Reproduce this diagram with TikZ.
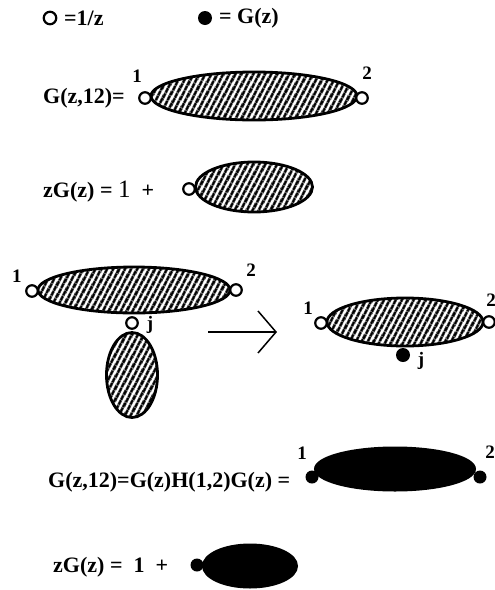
\documentclass[tikz,border=0pt]{standalone}
\usepackage{fontspec}
\setmainfont{Liberation Serif}
\usetikzlibrary{shapes.geometric,patterns.meta,arrows.meta}

\begin{document}
\begin{tikzpicture}[x=1pt,y=-1pt,font=\fontsize{22}{26}\selectfont\bfseries,
  opendot/.style={circle,draw,line width=2.2pt,fill=white,inner sep=0pt,minimum size=11.5pt},
  fulldot/.style={circle,fill,inner sep=0pt,minimum size=13pt},
  hatchell/.style={ellipse,draw,line width=2.8pt,inner sep=0pt,
    pattern={Lines[angle=62,distance=5.4pt,line width=3pt]}},
  blackell/.style={ellipse,draw,fill,line width=2pt,inner sep=0pt},
  eqn/.style={anchor=west,inner sep=0pt},
  tag/.style={inner sep=0pt,font=\fontsize{19}{21}\selectfont\bfseries}]
\useasboundingbox (0,0) rectangle (495,590);
\node[opendot,minimum size=12.5pt] (keyo) at (50,18) {};
\node[eqn] (keyotxt) at (64,18) {=1/z};
\node[fulldot,minimum size=14pt] (keyf) at (205,18) {};
\node[eqn] (keyftxt) at (219,18) {= G(z)};
\node[eqn] (gtxt) at (43,98) {G(z,12)=};
\node[hatchell,minimum width=206pt,minimum height=48pt] (gell) at (254,96) {};
\node[opendot] (g1) at (145,98) {};
\node[opendot] (g2) at (362,98) {};
\node[tag] (g1lab) at (137,76) {1};
\node[tag] (g2lab) at (367,73) {2};
\node[eqn] (ztxt) at (43,192) {zG(z) = {\mdseries\fontsize{25}{26}\selectfont 1} \ +};
\node[hatchell,minimum width=117pt,minimum height=50pt] (zell) at (254,187) {};
\node[opendot] (zdot) at (189,189) {};
\node[hatchell,minimum width=192pt,minimum height=46pt] (lell) at (134,290) {};
\node[hatchell,minimum width=51pt,minimum height=85pt] (lsub) at (132,375) {};
\node[opendot] (l1) at (32,291) {};
\node[opendot] (l2) at (236,290) {};
\node[opendot] (lj) at (132,323) {};
\node[tag] (l1lab) at (17,276) {1};
\node[tag] (l2lab) at (251,270) {2};
\node[tag] (ljlab) at (150,325) {j};
\coordinate (arrS) at (208,332);
\coordinate (arrE) at (277,332);
\draw[line width=1.5pt,-{Straight Barb[length=18pt,width=42pt,line width=1.5pt]}] (arrS) -- (arrE);
\node[hatchell,minimum width=156pt,minimum height=48pt] (rell) at (405,322) {};
\node[opendot] (r1) at (321,323) {};
\node[opendot] (r2) at (489,322) {};
\node[fulldot,minimum size=14pt] (rj) at (403,355) {};
\node[tag] (r1lab) at (308,308) {1};
\node[tag] (r2lab) at (491,300) {2};
\node[tag] (rjlab) at (421,361) {j};
\node[eqn] (htxt) at (48,482) {G(z,12)=G(z)H(1,2)G(z) =};
\node[blackell,minimum width=160pt,minimum height=43pt] (hell) at (395,469) {};
\node[fulldot] (h1) at (312,477) {};
\node[fulldot] (h2) at (480,477) {};
\node[tag] (h1lab) at (302,453) {1};
\node[tag] (h2lab) at (490,452) {2};
\node[eqn] (ftxt) at (53,567) {zG(z) = \ 1 \ +};
\node[blackell,minimum width=94pt,minimum height=43pt] (fell) at (250,566) {};
\node[fulldot] (fdot) at (197,565) {};
\end{tikzpicture}
\end{document}
